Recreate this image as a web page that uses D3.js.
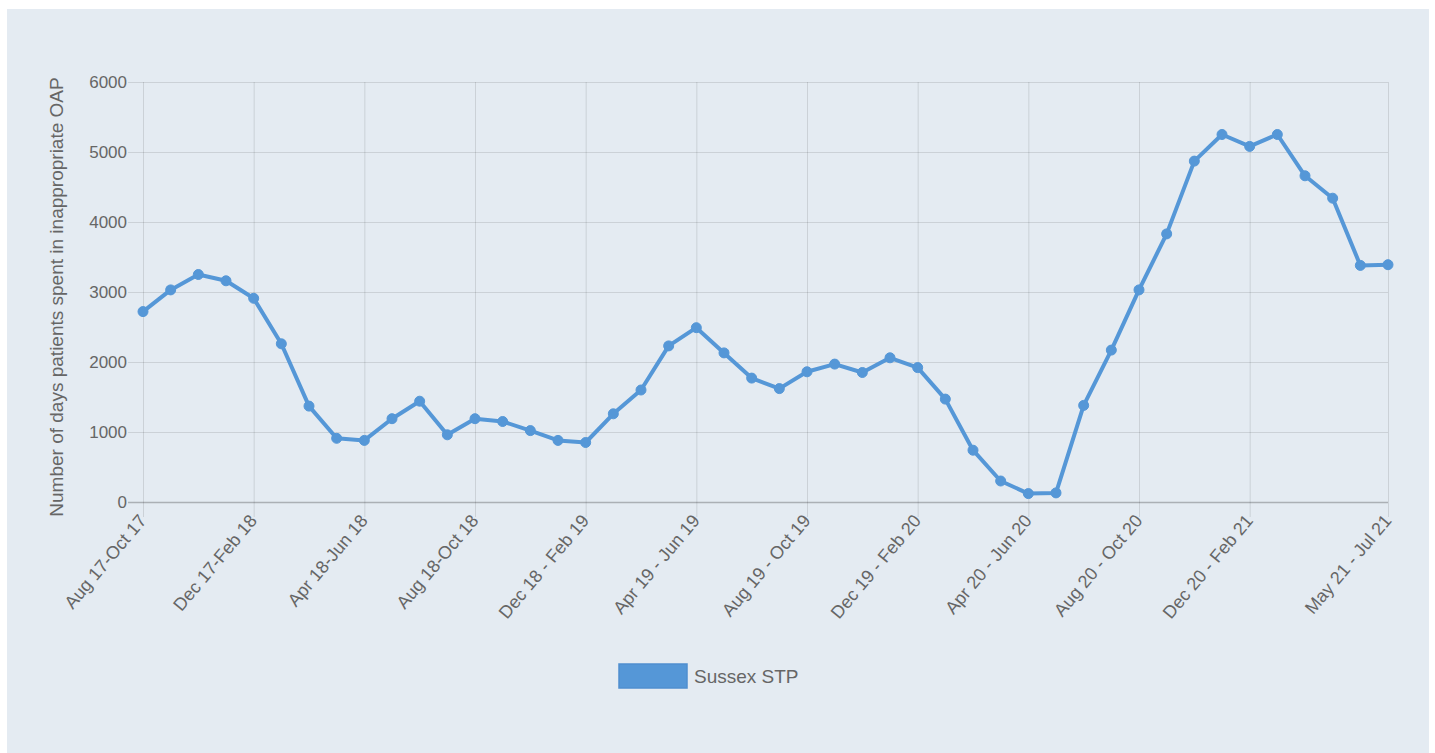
<!DOCTYPE html>
<html>
<head>
<meta charset="utf-8">
<script src="https://cdn.jsdelivr.net/npm/d3@7"></script>
<style>
    body { margin: 0; background: #fff; }
    .canvas svg { display: block; }
    text { font-family: "Liberation Sans", Arial, sans-serif; fill: #666; }
</style>
</head>
<body>
<div class="canvas"></div>
<script>
// rolling three month periods, one point per month
const periods = [
    'Aug 17-Oct 17', 'Sep 17-Nov 17', 'Oct 17-Dec 17', 'Nov 17-Jan 18',
    'Dec 17-Feb 18', 'Jan 18-Mar 18', 'Feb 18-Apr 18', 'Mar 18-May 18',
    'Apr 18-Jun 18', 'May 18-Jul 18', 'Jun 18-Aug 18', 'Jul 18-Sep 18',
    'Aug 18-Oct 18', 'Sep 18-Nov 18', 'Oct 18-Dec 18', 'Nov 18-Jan 19',
    'Dec 18 - Feb 19', 'Jan 19 - Mar 19', 'Feb 19 - Apr 19', 'Mar 19 - May 19',
    'Apr 19 - Jun 19', 'May 19 - Jul 19', 'Jun 19 - Aug 19', 'Jul 19 - Sep 19',
    'Aug 19 - Oct 19', 'Sep 19 - Nov 19', 'Oct 19 - Dec 19', 'Nov 19 - Jan 20',
    'Dec 19 - Feb 20', 'Jan 20 - Mar 20', 'Feb 20 - Apr 20', 'Mar 20 - May 20',
    'Apr 20 - Jun 20', 'May 20 - Jul 20', 'Jun 20 - Aug 20', 'Jul 20 - Sep 20',
    'Aug 20 - Oct 20', 'Sep 20 - Nov 20', 'Oct 20 - Dec 20', 'Nov 20 - Jan 21',
    'Dec 20 - Feb 21', 'Jan 21 - Mar 21', 'Feb 21 - Apr 21', 'Mar 21 - May 21',
    'Apr 21 - Jun 21', 'May 21 - Jul 21'
];

// Sussex STP - days in inappropriate out of area placements
const sussexDays = [
    2720, 3030, 3250, 3160, 2910, 2260, 1370, 910, 880, 1190,
    1440, 960, 1190, 1150, 1020, 880, 850, 1260, 1600, 2230,
    2490, 2130, 1770, 1620, 1860, 1970, 1850, 2060, 1920, 1470,
    740, 300, 120, 130, 1380, 2170, 3030, 3830, 4870, 5250,
    5080, 5250, 4660, 4340, 3380, 3390
];

// the labels chart.js left visible after auto-skipping
const shownLabels = [
    'Aug 17-Oct 17', 'Dec 17-Feb 18', 'Apr 18-Jun 18', 'Aug 18-Oct 18',
    'Dec 18 - Feb 19', 'Apr 19 - Jun 19', 'Aug 19 - Oct 19', 'Dec 19 - Feb 20',
    'Apr 20 - Jun 20', 'Aug 20 - Oct 20', 'Dec 20 - Feb 21', 'May 21 - Jul 21'
];

const yTicks = [0, 1000, 2000, 3000, 4000, 5000, 6000];
const seriesName = 'Sussex STP';
const yTitle = 'Number of days patients spent in inappropriate OAP';

const lineColour = '#5597d7';

const margin = { top: 82, right: 47, bottom: 251, left: 143 };
const width = 1435, height = 753;
const graphWidth = width - margin.left - margin.right;
const graphHeight = height - margin.top - margin.bottom;

const svg = d3.select('.canvas')
    .append('svg')
    .attr('width', width)
    .attr('height', height);

// light panel behind the chart
svg.append('rect')
    .attr('x', 7)
    .attr('y', 9)
    .attr('width', 1422)
    .attr('height', height - 9)
    .attr('fill', '#e4ebf2');

const graph = svg.append('g')
    .attr('transform', `translate(${margin.left}, ${margin.top})`);

const x = d3.scalePoint().domain(periods).range([0, graphWidth]);
const y = d3.scaleLinear().domain([0, 6000]).range([graphHeight, 0]);

// x axis - only the labels that survived auto-skip, gridlines run full height
const xAxis = d3.axisBottom(x)
    .tickValues(shownLabels)
    .tickSize(15)
    .tickPadding(6);

const xAxisGroup = graph.append('g')
    .attr('class', 'x-axis')
    .attr('transform', `translate(0, ${graphHeight})`)
    .call(xAxis);
xAxisGroup.select('.domain').remove();
xAxisGroup.selectAll('.tick line')
    .attr('y1', -graphHeight)
    .attr('y2', 15)
    .attr('stroke', 'rgba(0,0,0,0.11)');

// rotate the axis text
xAxisGroup.selectAll('.tick text')
    .attr('font-size', 18)
    .attr('text-anchor', 'end')
    .attr('dy', '0.35em')
    .attr('y', 0)
    .attr('transform', 'translate(-1, 15) rotate(-50)')
    .style('fill', '#666');

// y axis with chart.js style ticks + gridlines
const yAxis = d3.axisLeft(y)
    .tickValues(yTicks)
    .tickSize(-graphWidth)
    .tickPadding(18)
    .tickFormat(d3.format('d'));

const yAxisGroup = graph.append('g').attr('class', 'y-axis').call(yAxis);
yAxisGroup.select('.domain').remove();
yAxisGroup.selectAll('.tick line')
    .attr('x1', -15)
    .attr('stroke', d => d === 0 ? 'rgba(0,0,0,0.25)' : 'rgba(0,0,0,0.11)')
    .attr('stroke-width', d => d === 0 ? 1.5 : 1);
yAxisGroup.selectAll('.tick text')
    .attr('font-size', 17)
    .attr('x', -16)
    .style('fill', '#666');

// y axis title
svg.append('text')
    .attr('transform', `translate(63, ${margin.top + graphHeight / 2 + 5}) rotate(-90)`)
    .attr('text-anchor', 'middle')
    .attr('font-size', 19)
    .text(yTitle);

// the series
const points = sussexDays.map((v, i) => ({ period: periods[i], value: v }));

const line = d3.line()
    .x(d => x(d.period))
    .y(d => y(d.value));

graph.append('path')
    .datum(points)
    .attr('fill', 'none')
    .attr('stroke', lineColour)
    .attr('stroke-width', 4)
    .attr('stroke-linejoin', 'round')
    .attr('d', line);

graph.selectAll('circle')
    .data(points)
    .enter()
    .append('circle')
        .attr('r', 5)
        .attr('cx', d => x(d.period))
        .attr('cy', d => y(d.value))
        .attr('fill', lineColour)
        .attr('stroke', lineColour)
        .attr('stroke-width', 1);

// legend
const legend = svg.append('g').attr('transform', 'translate(619, 664)');
legend.append('rect')
    .attr('width', 68)
    .attr('height', 24)
    .attr('fill', lineColour)
    .attr('stroke', '#4f8fcf')
    .attr('stroke-width', 1.5);
legend.append('text')
    .attr('x', 75)
    .attr('y', 19)
    .attr('font-size', 19)
    .text(seriesName);
</script>
</body>
</html>
